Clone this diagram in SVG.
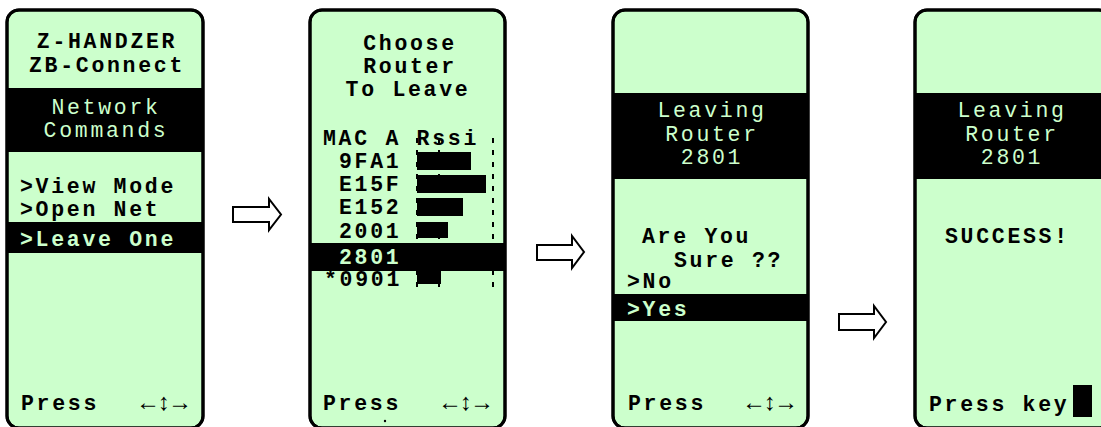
<svg xmlns="http://www.w3.org/2000/svg" width="1101" height="427" viewBox="0 0 1101 427">
<style>
.panel{fill:#ccffcc;stroke:#000;stroke-width:3}
.band{fill:#000}
.t{font-family:"Courier New","Liberation Mono",monospace;font-size:21.5px;letter-spacing:2.7px;font-weight:bold;fill:#000}
.h{font-family:"Courier New","Liberation Mono",monospace;font-size:21.5px;letter-spacing:2.7px;font-weight:normal;fill:#ccffcc}
.s{font-family:"Courier New","Liberation Mono",monospace;font-size:21.5px;letter-spacing:2.7px;font-weight:bold;fill:#ccffcc}
.m{text-anchor:middle}
.ar{font-family:"Liberation Serif","DejaVu Serif",serif;font-size:24px;letter-spacing:-2px;fill:#000}
.grid{stroke:#000;stroke-width:2;stroke-dasharray:5 7}
.bar{fill:#000}
.conn{fill:#fff;stroke:#000;stroke-width:2;stroke-linejoin:miter}
</style>
<rect width="1101" height="427" fill="#fff"/>

<g id="screen1">
<rect class="panel" x="7" y="10" width="196" height="418" rx="12"/>
<rect class="band" x="7" y="88" width="196" height="64"/>
<rect class="band" x="7" y="222" width="196" height="31"/>
<rect x="7" y="10" width="196" height="418" rx="12" fill="none" stroke="#000" stroke-width="3"/>
<text class="t m" x="107" y="48">Z-HANDZER</text>
<text class="t m" x="107" y="72">ZB-Connect</text>
<text class="h m" x="106" y="114">Network</text>
<text class="h m" x="106" y="137">Commands</text>
<text class="t" x="20" y="193">&gt;View Mode</text>
<text class="t" x="20" y="216">&gt;Open Net</text>
<text class="s" x="20" y="246">&gt;Leave One</text>
<text class="t" x="21" y="410">Press</text>
<text class="ar" x="136" y="410">←↕→</text>
</g>

<g id="screen2">
<rect class="panel" x="310" y="10" width="195" height="418" rx="12"/>
<line class="grid" x1="417" y1="138" x2="417" y2="289"/>
<line class="grid" x1="439" y1="138" x2="439" y2="289"/>
<line class="grid" x1="493" y1="138" x2="493" y2="289"/>
<rect class="bar" x="417" y="152" width="54" height="18"/>
<rect class="bar" x="417" y="175" width="69" height="18"/>
<rect class="bar" x="417" y="198" width="46" height="18"/>
<rect class="bar" x="417" y="222" width="31" height="16"/>
<rect class="bar" x="417" y="271" width="24" height="13"/>
<rect class="band" x="310" y="243" width="195" height="28"/>
<rect x="310" y="10" width="195" height="418" rx="12" fill="none" stroke="#000" stroke-width="3"/>
<text class="t m" x="410" y="50">Choose</text>
<text class="t m" x="410" y="73">Router</text>
<text class="t m" x="408" y="96">To Leave</text>
<text class="t" x="323" y="145">MAC A Rssi</text>
<text class="t" x="339" y="168">9FA1</text>
<text class="t" x="339" y="191">E15F</text>
<text class="t" x="339" y="214">E152</text>
<text class="t" x="339" y="238">2001</text>
<text class="s" x="339" y="264">2801</text>
<text class="t" x="324" y="286">*0901</text>
<text class="t" x="323" y="410">Press</text>
<text class="ar" x="438" y="410">←↕→</text>
<circle cx="385" cy="421" r="1.2" fill="#000"/>
</g>

<g id="screen3">
<rect class="panel" x="613" y="10" width="195" height="418" rx="12"/>
<rect class="band" x="613" y="93" width="195" height="86"/>
<rect class="band" x="613" y="294" width="195" height="27"/>
<rect x="613" y="10" width="195" height="418" rx="12" fill="none" stroke="#000" stroke-width="3"/>
<text class="h m" x="712" y="117">Leaving</text>
<text class="h m" x="712" y="141">Router</text>
<text class="h m" x="712" y="164">2801</text>
<text class="t" x="642" y="243">Are You</text>
<text class="t" x="674" y="267">Sure ??</text>
<text class="t" x="627" y="288">&gt;No</text>
<text class="s" x="627" y="316">&gt;Yes</text>
<text class="t" x="628" y="410">Press</text>
<text class="ar" x="742" y="410">←↕→</text>
</g>

<g id="screen4">
<rect class="panel" x="915" y="10" width="196" height="418" rx="12"/>
<rect class="band" x="915" y="93" width="196" height="86"/>
<rect x="915" y="10" width="196" height="418" rx="12" fill="none" stroke="#000" stroke-width="3"/>
<text class="h m" x="1012" y="117">Leaving</text>
<text class="h m" x="1012" y="141">Router</text>
<text class="h m" x="1012" y="164">2801</text>
<text class="t" x="945" y="243">SUCCESS!</text>
<text class="t" x="929" y="411">Press key</text>
<rect x="1073" y="385" width="19" height="32" fill="#000"/>
</g>

<g id="connectors">
<polygon class="conn" points="233,207 269,207 269,199 281,214.5 269,230 269,222 233,222"/>
<polygon class="conn" points="537,245 572,245 572,236 584,252 572,268 572,260 537,260"/>
<polygon class="conn" points="839,314 874,314 874,306 886,322 874,338 874,330 839,330"/>
</g>
</svg>
